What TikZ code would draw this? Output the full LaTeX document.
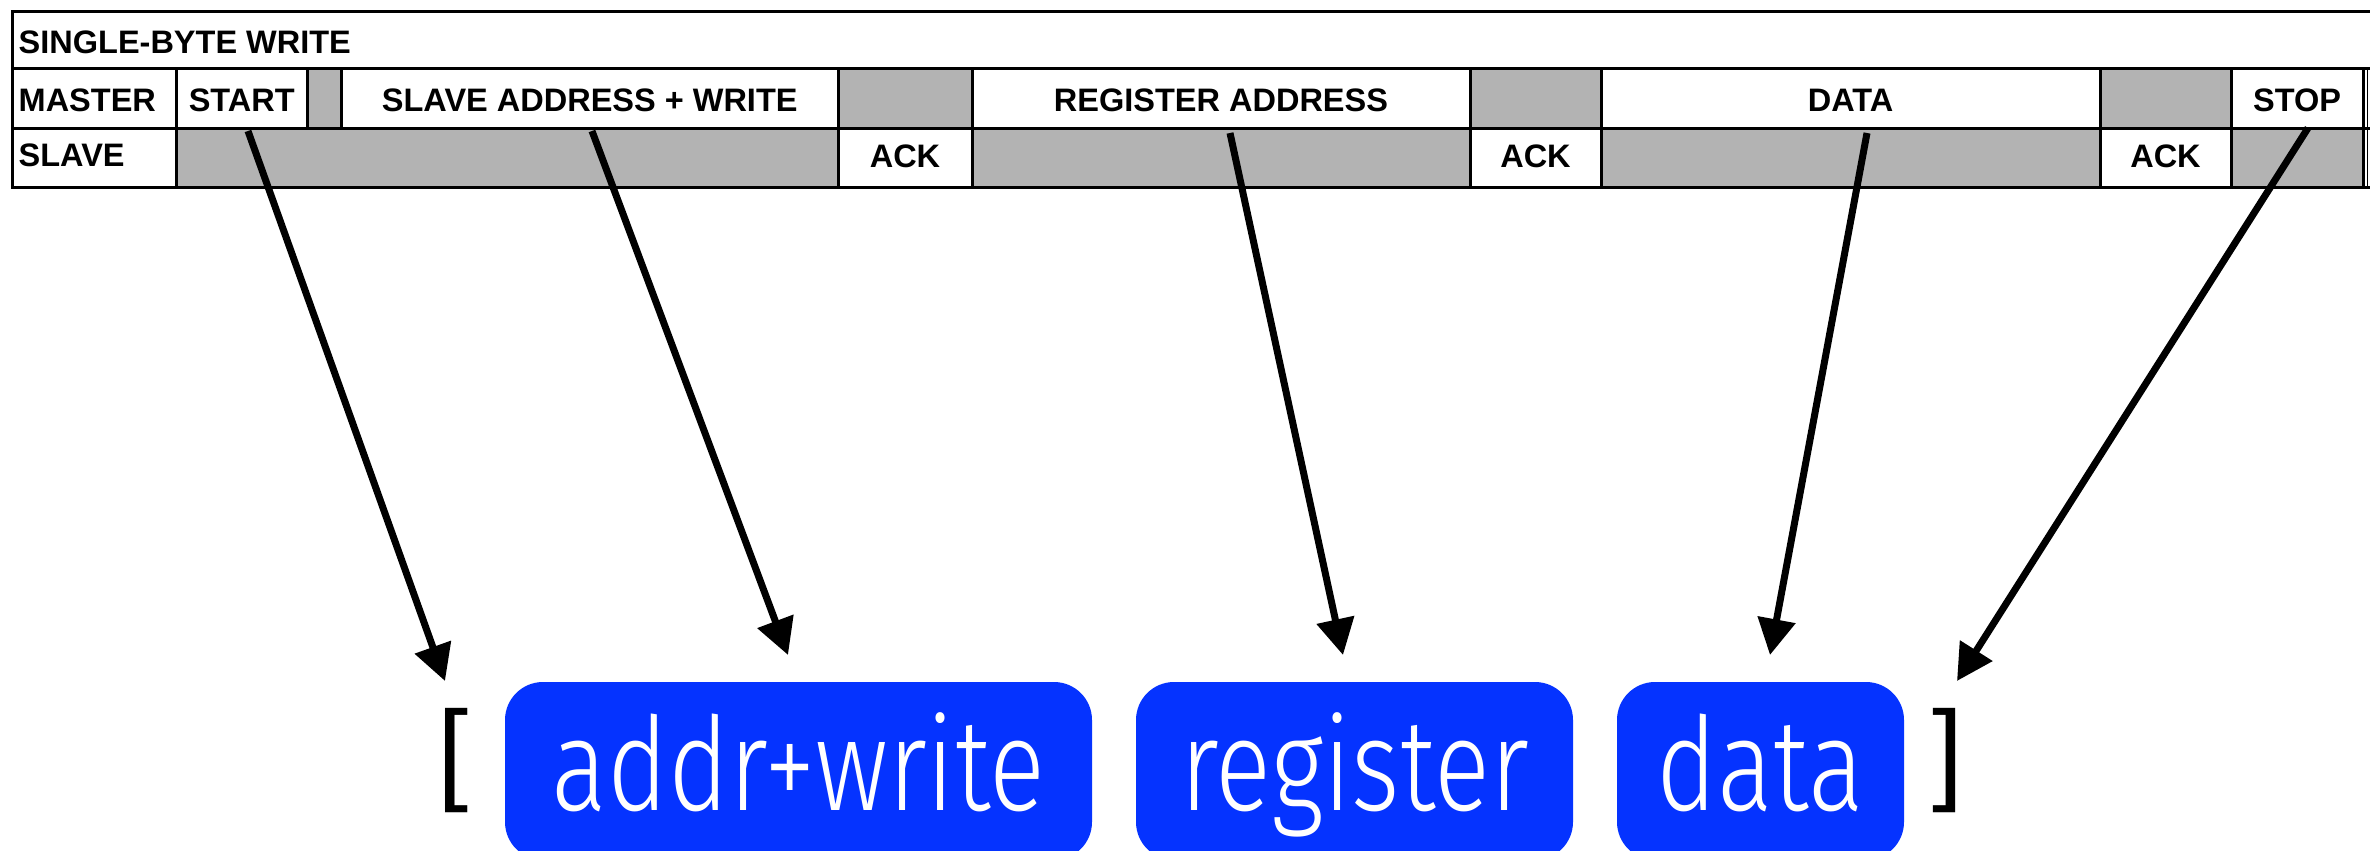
\documentclass[tikz,border=0pt]{standalone}
\usepackage{fontspec}
\setmainfont{Liberation Sans}
\newfontfamily\pillfont[FakeStretch=0.8]{Fira Sans Light}
\newfontfamily\brkfont{Liberation Sans}
\usetikzlibrary{arrows.meta}
\definecolor{cellgray}{RGB}{179,179,179}
\definecolor{pillblue}{RGB}{5,51,255}
\tikzset{
  grid/.style={line width=3pt, line cap=rect},
  celltext/.style={inner sep=0pt, font=\fontsize{32.5}{38}\selectfont\bfseries, anchor=base},
  lefttext/.style={celltext, anchor=base west},
  pill/.style={fill=pillblue, rounded corners=38pt, inner xsep=0pt, inner ysep=0pt,
    text=white, font=\pillfont\fontsize{130}{150}\selectfont,
    text height=128pt, text depth=50pt, anchor=base},
  brk/.style={inner sep=0pt, font=\brkfont\fontsize{112}{130}\selectfont, anchor=base west},
  pointer/.style={line width=7pt, -{Triangle[length=36pt,width=37pt]}}
}
\begin{document}
\begin{tikzpicture}[x=1pt,y=-1pt]
\clip (0,0) rectangle (2378,851);
% gray cells
\fill[cellgray] (307.5,69) rectangle (341.5,128);
\fill[cellgray] (838,69) rectangle (972,128);
\fill[cellgray] (1470,69) rectangle (1601,128);
\fill[cellgray] (2100,69) rectangle (2231,128);
\fill[cellgray] (176,128) rectangle (838,187);
\fill[cellgray] (972,128) rectangle (1470,187);
\fill[cellgray] (1601,128) rectangle (2100,187);
\fill[cellgray] (2231,128) rectangle (2363,187);
% grid
\draw[grid] (2368,12) -- (12,12) -- (12,187) -- (2368,187);
\draw[grid] (12,69) -- (2368,69);
\draw[grid] (12,128) -- (2368,128);
\foreach \x in {307.5,341.5} \draw[grid] (\x,69) -- (\x,128);
\foreach \x in {176,838,972,1470,1601,2100,2231,2363} \draw[grid] (\x,69) -- (\x,187);
\draw[line width=1.5pt] (2367.5,69) -- (2367.5,187);
% texts
\node[lefttext] (title) at (18.5,54) {SINGLE-BYTE WRITE};
\node[lefttext] (master) at (18.5,111) {MASTER};
\node[lefttext] (slave) at (18.5,166) {SLAVE};
\node[celltext] (start) at (241.75,111) {START};
\node[celltext] (saddr) at (589.75,111) {SLAVE ADDRESS + WRITE};
\node[celltext] (raddr) at (1221,111) {REGISTER ADDRESS};
\node[celltext] (dat) at (1850.5,111) {DATA};
\node[celltext] (stop) at (2297,111) {STOP};
\node[celltext] (ack1) at (905,167) {ACK};
\node[celltext] (ack2) at (1535.5,167) {ACK};
\node[celltext] (ack3) at (2165.5,167) {ACK};
% bottom
\node[brk] (lbr) at (437.5,789.5) {[};
\node[brk] (rbr) at (1932,789.5) {]};
\node[pill, minimum width=587pt] (addr) at (798.5,810) {addr+write};
\node[pill, minimum width=437pt] (reg) at (1354.5,810) {register};
\node[pill, minimum width=287pt] (data) at (1760.5,810) {data};
% arrow ends
\coordinate (s1) at (248,131);  \coordinate (e1) at (445,681);
\coordinate (s2) at (592,131);  \coordinate (e2) at (788,655);
\coordinate (s3) at (1230,133); \coordinate (e3) at (1343,655);
\coordinate (s4) at (1867,133); \coordinate (e4) at (1770,655);
\coordinate (s5) at (2308,128); \coordinate (e5) at (1957,681);
\foreach \i in {1,...,5} \draw[pointer] (s\i) -- (e\i);
\end{tikzpicture}
\end{document}
